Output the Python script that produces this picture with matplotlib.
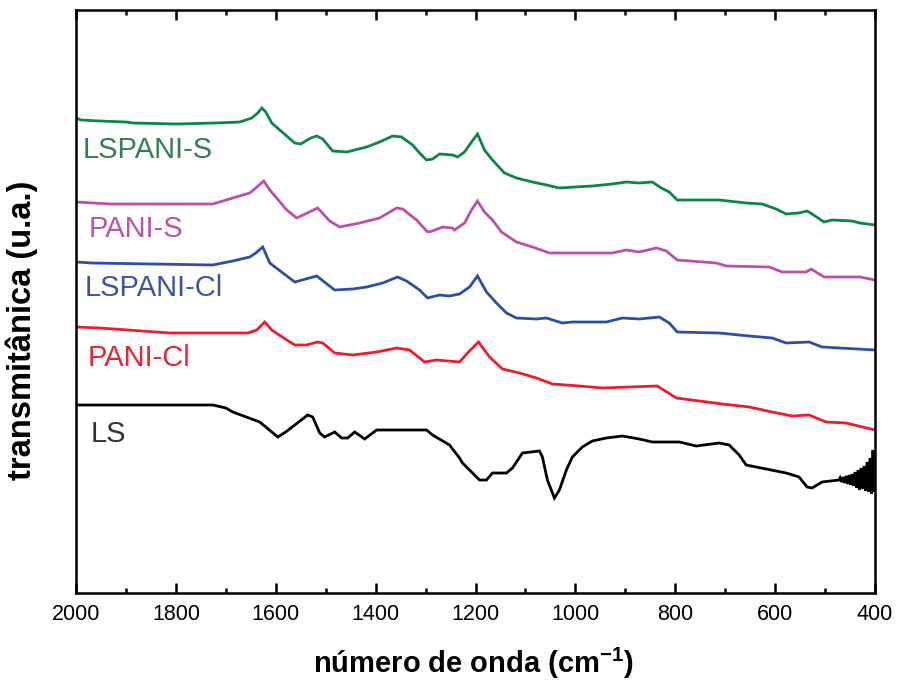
import matplotlib
matplotlib.use("Agg")
import matplotlib.pyplot as plt
from matplotlib.ticker import MultipleLocator

plt.rcParams['font.family'] = ['Liberation Sans', 'DejaVu Sans']
plt.rcParams['mathtext.default'] = 'regular'

# espectros FTIR: (número de onda, transmitância u.a.)
lspani_s = [(2000, 475), (1990, 473), (1952, 472), (1900, 471), (1886, 470), (1800, 469),
            (1720, 470), (1672, 471), (1648, 475), (1636, 480), (1628, 485), (1620, 481),
            (1608, 470), (1592, 463), (1562, 450), (1550, 449), (1530, 455), (1518, 457),
            (1506, 454), (1486, 442), (1458, 441), (1418, 446), (1392, 451), (1366, 457),
            (1348, 456), (1326, 448), (1312, 440), (1298, 433), (1286, 434), (1272, 439),
            (1246, 438), (1236, 436), (1222, 441), (1208, 451), (1196, 459), (1182, 443),
            (1166, 433), (1142, 420), (1118, 415), (1086, 411), (1058, 408), (1032, 405),
            (1002, 406), (966, 407), (926, 409), (898, 411), (872, 410), (846, 411),
            (828, 405), (812, 401), (796, 393), (712, 393), (658, 390), (626, 389),
            (598, 384), (578, 379), (552, 380), (536, 382), (526, 379), (502, 371),
            (486, 373), (446, 372), (430, 370), (400, 368)]

pani_s = [(2000, 391), (1932, 389), (1726, 389), (1686, 395), (1652, 400), (1640, 405),
          (1624, 412), (1612, 403), (1578, 383), (1558, 375), (1516, 385), (1492, 372),
          (1472, 366), (1432, 370), (1392, 375), (1358, 385), (1346, 384), (1318, 373),
          (1296, 361), (1286, 362), (1266, 366), (1246, 365), (1242, 363), (1222, 370),
          (1208, 383), (1196, 392), (1182, 381), (1166, 373), (1148, 361), (1118, 351),
          (1086, 346), (1052, 340), (926, 340), (898, 343), (872, 341), (838, 345),
          (818, 342), (796, 333), (718, 330), (698, 327), (612, 326), (586, 321),
          (538, 321), (528, 324), (502, 316), (430, 316), (400, 313)]

lspani_cl = [(2000, 331), (1968, 330), (1726, 328), (1686, 332), (1652, 336), (1640, 340),
             (1626, 346), (1612, 330), (1562, 311), (1518, 317), (1482, 303), (1446, 304),
             (1418, 306), (1386, 310), (1366, 314), (1356, 316), (1338, 312), (1312, 303),
             (1296, 295), (1272, 298), (1252, 297), (1232, 299), (1212, 306), (1196, 317),
             (1178, 301), (1158, 290), (1138, 280), (1118, 275), (1078, 274), (1058, 275),
             (1026, 270), (1006, 271), (938, 271), (906, 275), (872, 274), (832, 276),
             (812, 270), (796, 261), (712, 260), (652, 257), (606, 255), (578, 250),
             (532, 251), (506, 246), (400, 243)]

pani_cl = [(2000, 266), (1952, 265), (1812, 260), (1712, 260), (1656, 260), (1638, 263),
           (1622, 271), (1608, 263), (1578, 253), (1562, 248), (1538, 248), (1516, 251),
           (1506, 250), (1482, 240), (1446, 238), (1398, 241), (1358, 245), (1332, 243),
           (1302, 231), (1278, 233), (1232, 231), (1214, 241), (1194, 251), (1172, 236),
           (1146, 224), (1112, 220), (1078, 215), (1046, 209), (992, 207), (946, 205),
           (892, 206), (836, 207), (798, 195), (752, 192), (706, 189), (652, 186),
           (606, 181), (566, 177), (532, 178), (498, 171), (458, 170), (400, 163)]

ls = [(2000, 188), (1726, 188), (1700, 185), (1686, 181), (1632, 171), (1596, 156), (1580, 161),
      (1536, 178), (1526, 176), (1512, 160), (1502, 156), (1482, 161), (1468, 155),
      (1456, 155), (1442, 161), (1422, 154), (1398, 163), (1346, 163), (1298, 163),
      (1286, 158), (1252, 148), (1232, 135), (1226, 130), (1192, 113), (1178, 113),
      (1166, 120), (1138, 120), (1126, 125), (1106, 140), (1072, 142), (1066, 136),
      (1056, 113), (1042, 95), (1032, 103), (1018, 123), (1006, 136), (986, 146),
      (966, 152), (938, 155), (906, 157), (872, 154), (846, 151), (792, 151),
      (758, 147), (712, 150), (692, 148), (672, 138), (658, 128), (618, 124),
      (578, 120), (552, 116), (536, 106), (526, 105), (506, 111), (472, 113),
      (470, 115), (467, 111), (464, 116), (461, 110), (458, 117), (455, 109),
      (452, 118), (449, 108), (446, 119), (443, 107), (440, 121), (437, 105),
      (434, 123), (431, 103), (428, 125), (425, 104), (422, 127), (419, 102),
      (416, 131), (413, 101), (410, 135), (407, 99), (404, 143), (402, 101), (400, 138)]

series = [
    ('LSPANI-S', lspani_s, '#0c8644', '#2f8150', 1986, 435),
    ('PANI-S', pani_s, '#bd4fa6', '#b955a8', 1974, 356),
    ('LSPANI-Cl', lspani_cl, '#2c4ea6', '#3b55a3', 1982, 297),
    ('PANI-Cl', pani_cl, '#ee1c2a', '#e8252e', 1976, 227),
    ('LS', ls, '#000000', '#333333', 1970, 151),
]

fig = plt.figure(figsize=(8.98, 6.88), dpi=100)
ax = fig.add_axes([76 / 898, 95 / 688, 799 / 898, 583 / 688])

for name, pts, color, tcolor, lx, ly in series:
    wn, t = zip(*pts)
    ax.plot(wn, t, color=color, linewidth=2.0, solid_joinstyle='miter')
    ax.text(lx, ly, name, color=tcolor, fontsize=21, va='baseline', ha='left')

ax.set_xlim(2000, 400)
ax.set_ylim(0, 583)
ax.xaxis.set_major_locator(MultipleLocator(200))
ax.xaxis.set_minor_locator(MultipleLocator(100))
ax.set_yticks([])
ax.tick_params(axis='x', which='both', direction='in', top=True, bottom=True,
               width=1.8, labelsize=15.5, pad=8)
ax.tick_params(axis='x', which='major', length=7)
ax.tick_params(axis='x', which='minor', length=3.5)
for s in ax.spines.values():
    s.set_linewidth(1.8)

fig.text(474 / 898, 1 - 663 / 688, 'número de onda (cm$^{-1}$)', fontsize=21,
         fontweight='bold', ha='center', va='center')
fig.text(22 / 898, 1 - 330 / 688, 'transmitânica (u.a.)', fontsize=23.5,
         fontweight='bold', rotation=90, ha='center', va='center')

fig.savefig('out.png', dpi=100)
